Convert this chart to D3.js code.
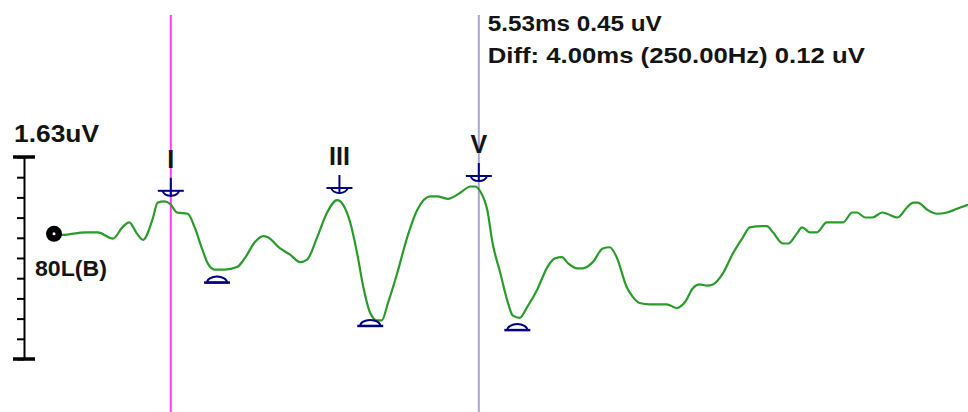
<!DOCTYPE html>
<html>
<head>
<meta charset="utf-8">
<script src="https://cdn.jsdelivr.net/npm/d3@7"></script>
<style>
  html, body { margin: 0; padding: 0; background: #ffffff; }
  svg { display: block; }
  text { font-family: "Liberation Sans", Arial, sans-serif; font-weight: bold; fill: #141414; }
</style>
</head>
<body>
<svg id="chart" width="968" height="412"></svg>
<script>
// ABR trace, channel 80L(B): latency in ms, amplitude in uV
const latencyMs = [0.00, 0.12, 0.42, 0.58, 0.78, 0.90, 0.99, 1.09, 1.17, 1.29, 1.36, 1.45, 1.52, 1.61, 1.75, 1.84,
  1.94, 2.01, 2.10, 2.23, 2.39, 2.49, 2.62, 2.73, 2.79, 2.95, 3.08, 3.21, 3.30, 3.43, 3.56, 3.69, 3.77, 3.86,
  3.95, 4.03, 4.12, 4.21, 4.27, 4.35, 4.47, 4.60, 4.73, 4.90, 5.00, 5.06, 5.13, 5.29, 5.42, 5.48, 5.55, 5.64,
  5.71, 5.81, 5.90, 5.97, 6.06, 6.16, 6.29, 6.42, 6.52, 6.61, 6.69, 6.81, 6.88, 7.01, 7.14, 7.23, 7.32, 7.45,
  7.53, 7.62, 7.75, 7.97, 8.10, 8.21, 8.31, 8.40, 8.49, 8.57, 8.70, 8.83, 8.96, 9.05, 9.21, 9.27, 9.35, 9.48,
  9.55, 9.66, 9.73, 9.83, 9.92, 10.05, 10.26, 10.38, 10.44, 10.55, 10.64, 10.77, 10.83, 10.97, 11.09, 11.17,
  11.23, 11.36, 11.48, 11.61, 11.74, 11.87, 12.00];
const amplitudeUv = [0.09, 0.09, 0.11, 0.11, 0.06, 0.15, 0.19, 0.10, 0.05, 0.21, 0.35, 0.36, 0.34, 0.27, 0.26, 0.15,
  -0.03, -0.14, -0.19, -0.19, -0.17, -0.10, 0.03, 0.08, 0.07, -0.02, -0.07, -0.13, -0.11, 0.07, 0.27, 0.37, 0.33, 0.19,
  -0.06, -0.33, -0.54, -0.60, -0.60, -0.46, -0.22, 0.07, 0.29, 0.40, 0.40, 0.39, 0.38, 0.43, 0.48, 0.48, 0.44, 0.29,
  0.02, -0.22, -0.44, -0.56, -0.58, -0.49, -0.35, -0.17, -0.10, -0.09, -0.14, -0.18, -0.18, -0.13, -0.02, -0.01, -0.09, -0.33,
  -0.41, -0.46, -0.47, -0.47, -0.50, -0.45, -0.34, -0.31, -0.32, -0.31, -0.22, -0.06, 0.07, 0.15, 0.16, 0.16, 0.11, 0.02,
  0.02, 0.10, 0.15, 0.11, 0.11, 0.19, 0.19, 0.27, 0.27, 0.23, 0.23, 0.27, 0.26, 0.23, 0.31, 0.35,
  0.35, 0.29, 0.26, 0.27, 0.30, 0.33, 0.35];

// Wave labels: peaks and their following troughs (ms)
const waveNames = ["I", "III", "V"];
const peakLatency = [1.53, 3.72, 5.53];
const troughLatency = [2.13, 4.12, 6.03];

// Cursors (ms)
const cursorA = 1.53;
const cursorB = 5.53;

// Amplitude scale bar
const scaleBarUv = 1.63;
const scaleBarDivisions = 10;
const channelLabel = "80L(B)";
const readoutLines = ["5.53ms 0.45 uV", "Diff: 4.00ms (250.00Hz) 0.12 uV"];

const svg = d3.select("#chart");

const x = d3.scaleLinear().domain([0, 12]).range([53, 977]);
const y = d3.scaleLinear().domain([0, 1]).range([246, 122]);  // 124 px per uV

const trace = latencyMs.map((t, i) => ({ t, v: amplitudeUv[i] }));
const bis = d3.bisector(d => d.t).left;
function valueAt(t) {
  const i = Math.max(1, Math.min(trace.length - 1, bis(trace, t)));
  const a = trace[i - 1], b = trace[i];
  return a.v + (b.v - a.v) * (t - a.t) / (b.t - a.t);
}

// Cursor lines
svg.append("line")
  .attr("x1", x(cursorA)).attr("x2", x(cursorA))
  .attr("y1", 15).attr("y2", 412)
  .attr("stroke", "#ff3cff").attr("stroke-width", 2);
svg.append("line")
  .attr("x1", x(cursorB)).attr("x2", x(cursorB))
  .attr("y1", 15).attr("y2", 412)
  .attr("stroke", "#a6a6d6").attr("stroke-width", 2);

// Cursor readout
const readout = svg.append("g");
readout.append("text").attr("x", x(cursorB) + 9).attr("y", 31)
  .style("font-size", "22px").attr("textLength", 174).attr("lengthAdjust", "spacingAndGlyphs")
  .text(readoutLines[0]);
readout.append("text").attr("x", x(cursorB) + 9).attr("y", 63)
  .style("font-size", "22px").attr("textLength", 377).attr("lengthAdjust", "spacingAndGlyphs")
  .text(readoutLines[1]);

// Amplitude scale bar built from an axis
const barScale = d3.scaleLinear().domain([0, scaleBarUv]).range([359, 157]);
const barAxis = d3.axisLeft(barScale)
  .tickValues(d3.range(scaleBarDivisions + 1).map(i => i * scaleBarUv / scaleBarDivisions))
  .tickSize(7).tickSizeOuter(0).tickFormat("");
const barG = svg.append("g").attr("transform", "translate(24,0)").call(barAxis);
barG.select(".domain").attr("stroke", "#000").attr("stroke-width", 2);
barG.selectAll(".tick line").attr("stroke", "#000").attr("stroke-width", 2);
[0, scaleBarUv].forEach(v => {
  svg.append("line")
    .attr("x1", 13).attr("x2", 35)
    .attr("y1", barScale(v)).attr("y2", barScale(v))
    .attr("stroke", "#000").attr("stroke-width", 3.5);
});
svg.append("text").attr("x", 14).attr("y", 142)
  .style("font-size", "24px").attr("textLength", 85).attr("lengthAdjust", "spacingAndGlyphs")
  .text(scaleBarUv.toFixed(2) + "uV");

// Waveform
const line = d3.line().x(d => x(d.t)).y(d => y(d.v)).curve(d3.curveMonotoneX);
svg.append("path").datum(trace)
  .attr("d", line)
  .attr("fill", "none")
  .attr("stroke", "#2a9a2a")
  .attr("stroke-width", 2.2)
  .attr("stroke-linejoin", "round");

// Channel origin dot and label
const dotX = x(0) + 1, dotY = y(trace[0].v) - 1;
svg.append("circle").attr("cx", dotX).attr("cy", dotY).attr("r", 8).attr("fill", "#000");
svg.append("circle").attr("cx", dotX).attr("cy", dotY).attr("r", 1.5).attr("fill", "#fff");
svg.append("text").attr("x", 35).attr("y", 276)
  .style("font-size", "22px").attr("textLength", 72).attr("lengthAdjust", "spacingAndGlyphs")
  .text(channelLabel);

// Peak markers with wave names
const navy = "#000080";
const peaks = svg.append("g");
peakLatency.forEach((t, i) => {
  const cx = x(t);
  const bottom = y(valueAt(t)) - 8;
  const g = peaks.append("g").attr("stroke", navy).attr("stroke-width", 2).attr("fill", "none");
  g.append("line").attr("x1", cx).attr("x2", cx).attr("y1", bottom - 19).attr("y2", bottom);
  g.append("line").attr("x1", cx - 13).attr("x2", cx + 13).attr("y1", bottom - 6).attr("y2", bottom - 6);
  g.append("path").attr("d", `M${cx - 8},${bottom - 6} A8,5 0 0 0 ${cx + 8},${bottom - 6}`);
  peaks.append("text").attr("x", cx).attr("y", bottom - 29)
    .attr("text-anchor", "middle")
    .style("font-size", "25px")
    .text(waveNames[i]);
});

// Trough markers
troughLatency.forEach(t => {
  const cx = x(t);
  const top = y(valueAt(t)) + 6;
  const g = svg.append("g").attr("stroke", navy).attr("stroke-width", 2);
  g.append("path").attr("d", `M${cx - 10},${top + 7} A10,6 0 0 1 ${cx + 10},${top + 7} Z`).attr("fill", "#fff");
  g.append("line").attr("x1", cx - 13).attr("x2", cx + 13).attr("y1", top + 7).attr("y2", top + 7)
    .attr("stroke-width", 2.5);
});
</script>
</body>
</html>
